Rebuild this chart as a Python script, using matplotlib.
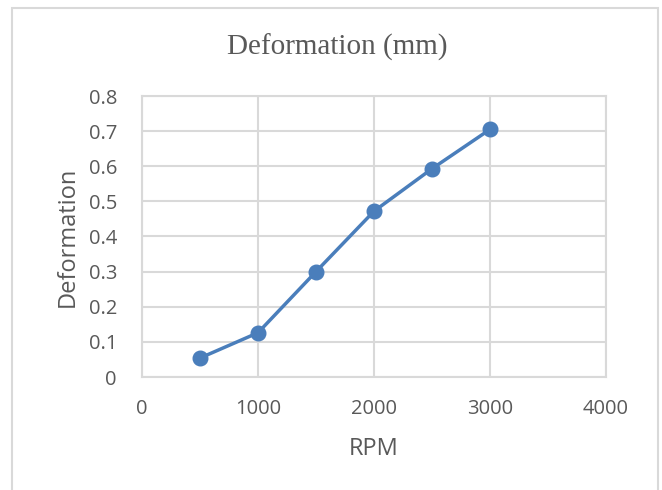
import numpy as np
import matplotlib
matplotlib.use("Agg")
import matplotlib.pyplot as plt
from matplotlib.patches import Rectangle

rpm = [500, 1000, 1500, 2000, 2500, 3000]
deformation = [0.054, 0.126, 0.300, 0.472, 0.593, 0.705]

x_ticks = [0, 1000, 2000, 3000, 4000]
y_ticks = [0, 0.1, 0.2, 0.3, 0.4, 0.5, 0.6, 0.7, 0.8]
y_tick_labels = ["0", "0.1", "0.2", "0.3", "0.4", "0.5", "0.6", "0.7", "0.8"]

text_color = "#595959"
grid_color = "#D9D9D9"
line_color = "#4A7EBB"

fig = plt.figure(figsize=(6.62, 4.9), dpi=100)

# outer chart border
fig.patches.append(Rectangle((12 / 662, -0.02), 646 / 662, 1 - 8 / 490 + 0.02,
                             transform=fig.transFigure, fill=False,
                             edgecolor=grid_color, linewidth=1.5))

ax = fig.add_axes([142 / 662, 113 / 490, 464 / 662, 281 / 490])
ax.plot(rpm, deformation, color=line_color, linewidth=2.5,
        marker="o", markersize=10.5, markerfacecolor=line_color,
        markeredgecolor=line_color, zorder=3)

ax.set_xlim(0, 4000)
ax.set_ylim(0, 0.8)
ax.set_xticks(x_ticks)
ax.set_yticks(y_ticks)
ax.set_yticklabels(y_tick_labels)
ax.grid(True, color=grid_color, linewidth=1.5)
ax.set_axisbelow(True)
for s in ax.spines.values():
    s.set_color(grid_color)
    s.set_linewidth(1.5)
ax.tick_params(length=0, labelsize=14.5, labelcolor=text_color)
ax.tick_params(axis="x", pad=16)
ax.tick_params(axis="y", pad=18)
for lab in ax.get_xticklabels() + ax.get_yticklabels():
    lab.set_family("Open Sans")

ax.set_xlabel("RPM", fontsize=17, color=text_color, family="Open Sans", labelpad=13)
ax.set_ylabel("Deformation", fontsize=17, color=text_color, family="Open Sans", labelpad=6)

fig.text(337.5 / 662, 1 - 47 / 490, "Deformation (mm)", ha="center", va="center",
         fontsize=21, color=text_color, family="Liberation Serif")

fig.savefig("out.png", dpi=100)
